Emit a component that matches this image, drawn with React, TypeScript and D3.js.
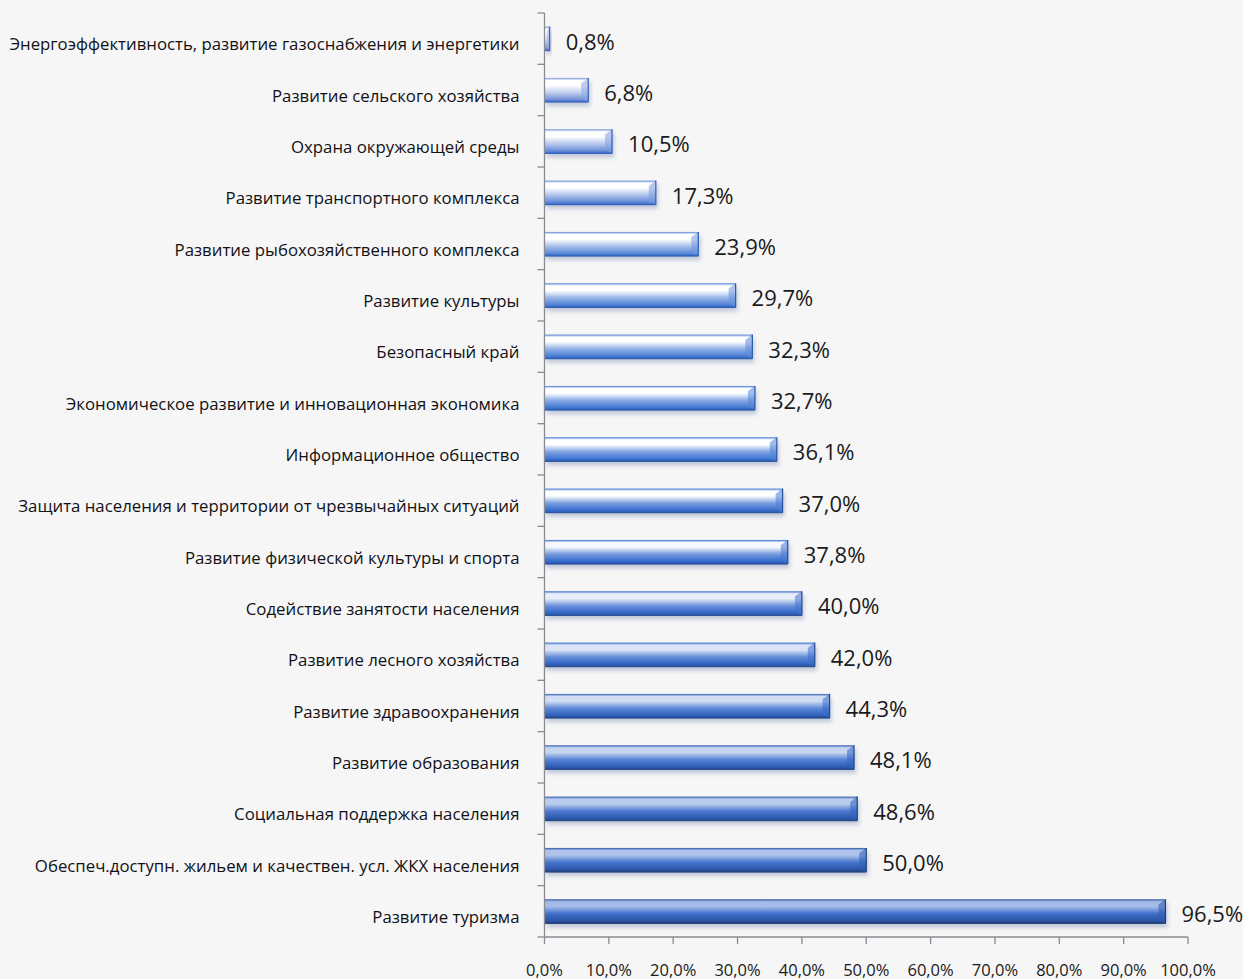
import React from 'react';
import * as d3 from 'd3';

const categories: string[] = [
    'Энергоэффективность, развитие газоснабжения и энергетики',
    'Развитие сельского хозяйства',
    'Охрана окружающей среды',
    'Развитие транспортного комплекса',
    'Развитие рыбохозяйственного комплекса',
    'Развитие культуры',
    'Безопасный край',
    'Экономическое развитие и инновационная экономика',
    'Информационное общество',
    'Защита населения и территории от чрезвычайных ситуаций',
    'Развитие физической культуры и спорта',
    'Содействие занятости населения',
    'Развитие лесного хозяйства',
    'Развитие здравоохранения',
    'Развитие образования',
    'Социальная поддержка населения',
    'Обеспеч.доступн. жильем и качествен. усл. ЖКХ населения',
    'Развитие туризма',
];

const values: number[] = [
    0.8, 6.8, 10.5, 17.3, 23.9, 29.7, 32.3, 32.7, 36.1, 37.0,
    37.8, 40.0, 42.0, 44.3, 48.1, 48.6, 50.0, 96.5,
];

const xTicks: number[] = [0, 10, 20, 30, 40, 50, 60, 70, 80, 90, 100];

const fmt = (v: number) => v.toFixed(1).replace('.', ',') + '%';

const App: React.FC = () => {
    const width = 1243;
    const height = 979;
    const x0 = 544.5;
    const x1 = 1188;
    const yTop = 13;
    const yBottom = 937;

    const x = d3.scaleLinear().domain([0, 100]).range([x0, x1]);
    const y = d3.scaleBand<string>()
        .domain(categories)
        .range([yTop, yBottom])
        .paddingInner(0.53)
        .paddingOuter(0.265);

    // pale at the top, saturated blue at the bottom
    const color = d3.scaleLinear<string>()
        .domain([0, 6, 17])
        .range(['#cdd6f0', '#8fb0e6', '#3f6fcc'])
        .interpolate(d3.interpolateRgb);

    const step = y.step();
    const bw = y.bandwidth();
    const font = '"Open Sans", "Noto Sans", sans-serif';

    return (
        <svg width={width} height={height} style={{ position: 'absolute', left: 0, top: 0 }}>
            <defs>
                <filter id="shadow" x="-5%" y="-50%" width="110%" height="200%">
                    <feGaussianBlur stdDeviation="2" />
                </filter>
                {categories.map((c, i) => {
                    const base = d3.hsl(color(i));
                    const light = base.brighter(1.1).formatHex();
                    const mid = base.formatHex();
                    const dark = base.darker(0.7).formatHex();
                    const darker = base.darker(1.4).formatHex();
                    return (
                        <linearGradient key={c} id={`g${i}`} x1="0" y1="0" x2="0" y2="1">
                            <stop offset="0" stopColor={dark} />
                            <stop offset="0.1" stopColor={light} />
                            <stop offset="0.3" stopColor={light} />
                            <stop offset="0.6" stopColor={mid} />
                            <stop offset="0.88" stopColor={dark} />
                            <stop offset="1" stopColor={darker} />
                        </linearGradient>
                    );
                })}
            </defs>
            <rect width={width} height={height} fill="#f6f6f6" />

            {/* bars */}
            {categories.map((c, i) => {
                const by = y(c) as number;
                const bx = x(0);
                const w = x(values[i]) - x(0);
                const base = d3.hsl(color(i));
                const bev = Math.min(7, w * 0.6);
                return (
                    <g key={c}>
                        <rect x={bx + 2} y={by + 4} width={w} height={bw} fill="#7d8db0" opacity={0.45} filter="url(#shadow)" />
                        <rect x={bx} y={by} width={w} height={bw} fill={`url(#g${i})`} />
                        <polygon
                            points={`${bx + w - bev},${by + bw * 0.22} ${bx + w},${by} ${bx + w},${by + bw} ${bx + w - bev},${by + bw * 0.85}`}
                            fill={base.darker(0.5).formatHex()}
                            opacity={0.55}
                        />
                        <line x1={bx + w} x2={bx + w} y1={by} y2={by + bw} stroke={base.darker(1.6).formatHex()} strokeWidth={1.2} />
                        <line x1={bx} x2={bx + w} y1={by + bw} y2={by + bw} stroke={base.darker(1.6).formatHex()} strokeWidth={1} />
                        <text
                            x={x(values[i]) + 16}
                            y={by + bw / 2 + 2}
                            dominantBaseline="central"
                            fontFamily={font}
                            fontSize={22}
                            fill="#1a1a20"
                        >
                            {fmt(values[i])}
                        </text>
                        <text
                            x={x0 - 25}
                            y={by + bw / 2 + 5}
                            dominantBaseline="central"
                            textAnchor="end"
                            fontFamily={font}
                            fontSize={16.8}
                            fill="#111116"
                        >
                            {c}
                        </text>
                    </g>
                );
            })}

            {/* y axis */}
            <line x1={x0} x2={x0} y1={yTop} y2={yBottom} stroke="#8a8a92" strokeWidth={1.3} />
            {d3.range(categories.length + 1).map(k => (
                <line key={k} x1={x0 - 7} x2={x0} y1={yTop + k * step} y2={yTop + k * step} stroke="#8a8a92" strokeWidth={1.3} />
            ))}

            {/* x axis */}
            <line x1={x0} x2={x1} y1={yBottom} y2={yBottom} stroke="#8a8a92" strokeWidth={1.3} />
            {xTicks.map(t => (
                <g key={t}>
                    <line x1={x(t)} x2={x(t)} y1={yBottom} y2={yBottom + 7} stroke="#8a8a92" strokeWidth={1.3} />
                    <text
                        x={x(t)}
                        y={969}
                        textAnchor="middle"
                        dominantBaseline="central"
                        fontFamily={font}
                        fontSize={16.5}
                        fill="#1a1a20"
                    >
                        {fmt(t)}
                    </text>
                </g>
            ))}
        </svg>
    );
};

export default App;
